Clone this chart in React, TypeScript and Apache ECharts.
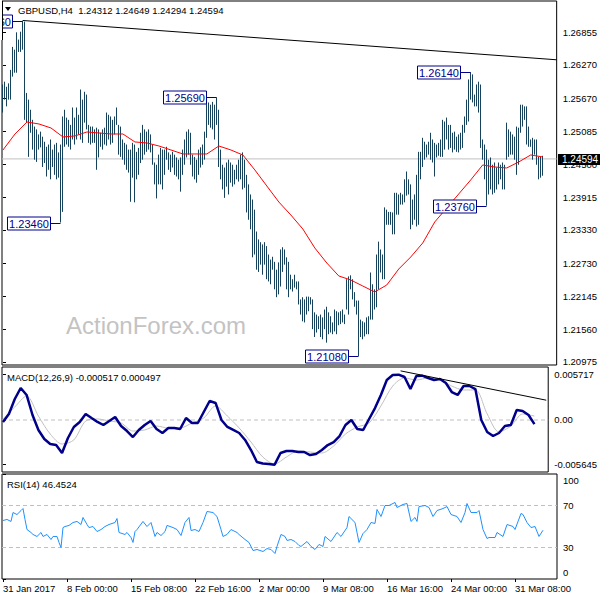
import { useEffect, useRef } from "react";
import * as echarts from "echarts";

// ---------- DATA ----------
const highs = [
  1.2592, 1.2597, 1.2588, 1.2594, 1.2618, 1.2659, 1.2654, 1.2685, 1.2672, 1.2686,
  1.2706, 1.2704, 1.2577, 1.2565, 1.2547, 1.2529, 1.2517, 1.2512, 1.2503, 1.2508,
  1.2499, 1.249, 1.2481, 1.2485, 1.2494, 1.2476, 1.2485, 1.2488, 1.2471, 1.2485,
  1.2535, 1.2547, 1.2533, 1.2529, 1.252, 1.2551, 1.2533, 1.2551, 1.2538, 1.2583,
  1.2565, 1.2579, 1.2574, 1.252, 1.2517, 1.2517, 1.2512, 1.2515, 1.2512, 1.2506,
  1.2512, 1.2515, 1.2542, 1.2538, 1.2535, 1.2529, 1.2535, 1.2551, 1.252, 1.2517,
  1.2494, 1.2488, 1.2485, 1.2476, 1.2476, 1.2488, 1.2485, 1.2472, 1.2479, 1.2506,
  1.252, 1.2512, 1.2508, 1.2512, 1.2503, 1.2485, 1.2453, 1.2449, 1.2467, 1.2479,
  1.2476, 1.2476, 1.2481, 1.2471, 1.2467, 1.2472, 1.2467, 1.2462, 1.2458, 1.2462,
  1.2476, 1.2494, 1.2508, 1.2512, 1.2506, 1.2467, 1.2463, 1.2458, 1.2476, 1.248,
  1.2485, 1.2508, 1.256, 1.256, 1.2556, 1.2561, 1.2556, 1.2569, 1.2547, 1.2476,
  1.2449, 1.2444, 1.2453, 1.2458, 1.2453, 1.2449, 1.244, 1.2449, 1.2458, 1.2467,
  1.2471, 1.2458, 1.2431, 1.2414, 1.2396, 1.2387, 1.2369, 1.233, 1.2316, 1.2311,
  1.2307, 1.2311, 1.2304, 1.2289, 1.228, 1.2285, 1.2276, 1.2262, 1.2275, 1.2298,
  1.2302, 1.2298, 1.2284, 1.2276, 1.2253, 1.2245, 1.2253, 1.2241, 1.2241, 1.2209,
  1.2213, 1.2209, 1.2214, 1.2214, 1.2213, 1.2209, 1.2186, 1.2182, 1.2179, 1.2182,
  1.2177, 1.2191, 1.2196, 1.2186, 1.2179, 1.2168, 1.2191, 1.2188, 1.2186, 1.2188,
  1.2191, 1.2182, 1.2245, 1.225, 1.2252, 1.2245, 1.2222, 1.2207, 1.2207, 1.2173,
  1.217, 1.2168, 1.2177, 1.2179, 1.2257, 1.2236, 1.2227, 1.2289, 1.2312, 1.2298,
  1.2289, 1.2373, 1.2369, 1.2365, 1.2365, 1.2364, 1.2399, 1.2399, 1.2396, 1.2399,
  1.2396, 1.2423, 1.2437, 1.2423, 1.2414, 1.2387, 1.2396, 1.2431, 1.2472, 1.2472,
  1.2497, 1.249, 1.2485, 1.249, 1.2506, 1.2494, 1.2488, 1.2485, 1.2488, 1.2494,
  1.2529, 1.2526, 1.2533, 1.252, 1.252, 1.2506, 1.2508, 1.2499, 1.2503, 1.2506,
  1.252, 1.2535, 1.2565, 1.2601, 1.2614, 1.261, 1.2574, 1.2592, 1.2597, 1.2592,
  1.2494, 1.2485, 1.2476, 1.2458, 1.2462, 1.2449, 1.2453, 1.2444, 1.2453, 1.2449,
  1.2453, 1.2449, 1.2524, 1.2512, 1.2508, 1.2503, 1.2499, 1.2517, 1.2515, 1.2556,
  1.2556, 1.2553, 1.2553, 1.2517, 1.2494, 1.2497, 1.2494, 1.2494, 1.2463, 1.2463,
  1.24649,
];
const lows = [
  1.2542, 1.2565, 1.2553, 1.2565, 1.2565, 1.2606, 1.2613, 1.2613, 1.265, 1.265,
  1.2654, 1.2529, 1.2524, 1.2463, 1.2506, 1.2476, 1.2458, 1.2454, 1.2476, 1.248,
  1.2445, 1.2452, 1.2428, 1.244, 1.2423, 1.2445, 1.2431, 1.2423, 1.2426, 1.2346,
  1.2365, 1.2481, 1.2485, 1.2481, 1.2476, 1.2494, 1.2485, 1.2494, 1.2503, 1.2494,
  1.2488, 1.2524, 1.2512, 1.2488, 1.2485, 1.2488, 1.2488, 1.244, 1.2462, 1.2481,
  1.2476, 1.2485, 1.2483, 1.2494, 1.2485, 1.2488, 1.2503, 1.252, 1.2467, 1.2463,
  1.2458, 1.2449, 1.244, 1.2435, 1.2383, 1.2426, 1.2382, 1.2423, 1.2431, 1.2452,
  1.2458, 1.2467, 1.2472, 1.2476, 1.2471, 1.2449, 1.2414, 1.2389, 1.2414, 1.2414,
  1.2405, 1.2431, 1.2458, 1.244, 1.2436, 1.2444, 1.2431, 1.2428, 1.2423, 1.2401,
  1.2431, 1.2449, 1.2462, 1.2467, 1.2449, 1.2428, 1.2423, 1.2417, 1.2431, 1.2444,
  1.2449, 1.2458, 1.2497, 1.252, 1.2515, 1.2512, 1.2494, 1.252, 1.2445, 1.2423,
  1.2405, 1.239, 1.241, 1.2396, 1.2417, 1.241, 1.2414, 1.2423, 1.2419, 1.2423,
  1.2405, 1.2408, 1.2364, 1.2351, 1.2334, 1.2284, 1.2289, 1.2262, 1.2258, 1.2271,
  1.2253, 1.2271, 1.2245, 1.2241, 1.2236, 1.2262, 1.2227, 1.2213, 1.2218, 1.2232,
  1.2258, 1.2271, 1.2227, 1.2213, 1.2227, 1.2223, 1.223, 1.2227, 1.22, 1.2182,
  1.217, 1.2168, 1.2182, 1.2188, 1.22, 1.2156, 1.2142, 1.215, 1.2156, 1.2142,
  1.2138, 1.2156, 1.2132, 1.2147, 1.215, 1.2147, 1.2152, 1.2147, 1.2163, 1.2165,
  1.2168, 1.2165, 1.2191, 1.2182, 1.2227, 1.2209, 1.2196, 1.2182, 1.2108, 1.2142,
  1.2138, 1.2143, 1.2147, 1.2147, 1.2173, 1.2173, 1.2191, 1.2195, 1.2227, 1.2257,
  1.2245, 1.2245, 1.2342, 1.2342, 1.2342, 1.2325, 1.2325, 1.236, 1.236, 1.2378,
  1.2378, 1.2382, 1.2394, 1.2396, 1.2334, 1.2342, 1.2351, 1.2339, 1.2342, 1.2423,
  1.2445, 1.2458, 1.2462, 1.2467, 1.2458, 1.2453, 1.2428, 1.2462, 1.2465, 1.2463,
  1.2463, 1.2476, 1.2494, 1.2476, 1.2479, 1.2471, 1.2476, 1.2472, 1.2471, 1.2476,
  1.2479, 1.2506, 1.252, 1.2526, 1.2565, 1.256, 1.2553, 1.2553, 1.2542, 1.2479,
  1.2458, 1.2423, 1.2376, 1.2396, 1.2405, 1.2396, 1.2399, 1.2405, 1.2414, 1.2423,
  1.2405, 1.2405, 1.2458, 1.2463, 1.2467, 1.2467, 1.2458, 1.2431, 1.2449, 1.2506,
  1.2517, 1.2529, 1.2485, 1.2481, 1.2481, 1.2458, 1.2467, 1.2449, 1.2423, 1.2426,
  1.24294,
];

// moving average, read every 6 bars
const maStep = 6;
const maValues = [
  1.24753, 1.25038, 1.25252, 1.25216, 1.25145, 1.24985, 1.25003, 1.25074, 1.25056, 1.25038,
  1.25038, 1.24896, 1.24878, 1.24824, 1.24753, 1.24682, 1.24682, 1.24682, 1.24824, 1.24753,
  1.24664, 1.24397, 1.24111, 1.23826, 1.23595, 1.23345, 1.23007, 1.22739, 1.22508, 1.22436,
  1.22329, 1.22223, 1.22347, 1.22632, 1.22846, 1.23096, 1.2347, 1.2372, 1.23969, 1.24219,
  1.24486, 1.2445, 1.24432, 1.24539, 1.24664, 1.24629,
];

// MACD main line, read every 3 bars
const macdStep = 3;
const macdMain = [
  -0.00025, 0.00076, 0.00265, 0.00404, 0.00316, 0.00063, -0.00126, -0.0024, -0.00303, -0.00316,
  -0.00416, -0.00227, -0.00088, -0.00025, 0.00076, 0.00025, -0.00025, -0.00063, -0.00013, 0.00038,
  -0.00076, -0.00139, -0.00215, -0.00126, -0.00063, -0.00013, -0.00114, -0.00164, -0.00101, -0.00101,
  -0.00114, 0.00025, -0.00038, -0.00038, 0.00101, 0.0024, 0.00215, 0.0, -0.00088, -0.00126,
  -0.00164, -0.00252, -0.00379, -0.0053, -0.0055, -0.00555, -0.00564, -0.00416, -0.00391, -0.00391,
  -0.00404, -0.00404, -0.00442, -0.00429, -0.00379, -0.00316, -0.00278, -0.00202, -0.00063, 0.0,
  -0.00114, -0.00126, 0.00013, 0.00151, 0.00316, 0.00505, 0.00568, 0.00572, 0.00543, 0.00391,
  0.00555, 0.0056, 0.0053, 0.00505, 0.00517, 0.00467, 0.00353, 0.00316, 0.00429, 0.00429,
  0.00391, 0.0, -0.00151, -0.00202, -0.00164, -0.00076, -0.00063, 0.00126, 0.00114, 0.00063,
  -0.000517,
];

// MACD signal line, read every 6 bars
const signalStep = 6;
const macdSignal = [
  0.00013, 0.00164, 0.00303, 0.0005, -0.00177, -0.00303, -0.00252, -0.00013, 0.00013, -0.00013,
  -0.00038, -0.00139, -0.00126, -0.00076, -0.00101, -0.00101, -0.00038, 0.00025, 0.00177, 0.0005,
  -0.00101, -0.00278, -0.00467, -0.00555, -0.00467, -0.00391, -0.00404, -0.00416, -0.00328, -0.00177,
  -0.00088, -0.00038, 0.00177, 0.00429, 0.0053, 0.00505, 0.0053, 0.00505, 0.00429, 0.00379,
  0.00379, 0.00076, -0.00151, -0.00076, 0.00076, 0.000497,
];

// RSI(14): [bar index, value]
const rsiPoints: [number, number][] = [
  [0, 55.7], [2, 56.7], [4, 54.8], [5, 63.3], [7, 61.4], [9, 65.2], [10, 67.1], [11, 56.7], [12, 47.1],
  [14, 44.3], [15, 42.4], [17, 40.5], [19, 44.3], [20, 40.5], [22, 42.4], [24, 37.6], [25, 40.5],
  [27, 40.5], [28, 34.8], [29, 30.0], [30, 49.0], [31, 50.0], [33, 51.0], [35, 53.8], [37, 54.8],
  [39, 51.9], [40, 58.6], [42, 51.9], [43, 49.0], [45, 50.0], [47, 45.2], [49, 47.1], [51, 50.0],
  [53, 51.9], [56, 53.8], [57, 57.6], [58, 44.3], [61, 42.4], [62, 44.3], [64, 39.5], [65, 34.8],
  [66, 45.2], [67, 47.1], [70, 54.8], [72, 50.0], [74, 53.8], [76, 40.5], [77, 44.3], [79, 41.4],
  [81, 45.2], [82, 51.0], [85, 49.0], [87, 47.1], [89, 41.4], [91, 53.8], [93, 58.6], [94, 46.2],
  [96, 47.1], [98, 45.2], [100, 53.8], [102, 64.3], [105, 63.3], [107, 59.5], [109, 47.1], [110, 40.5],
  [112, 42.4], [114, 47.1], [117, 44.3], [118, 42.4], [121, 37.6], [123, 34.8], [125, 27.1], [127, 28.1],
  [130, 26.2], [132, 29.0], [134, 28.1], [136, 24.3], [137, 31.0], [139, 42.4], [141, 40.5], [142, 36.7],
  [144, 37.6], [146, 35.7], [148, 31.9], [149, 31.0], [152, 35.7], [154, 31.0], [156, 28.1], [158, 32.9],
  [160, 31.0], [161, 40.5], [164, 35.7], [167, 44.3], [169, 40.5], [172, 49.0], [173, 59.5], [176, 53.8],
  [177, 44.3], [178, 34.8], [180, 43.3], [182, 47.1], [184, 53.8], [186, 52.9], [187, 66.2], [189, 59.5],
  [191, 70.0], [193, 70.0], [196, 72.9], [197, 68.1], [200, 71.0], [202, 71.9], [204, 54.8], [206, 58.6],
  [207, 54.8], [208, 69.0], [211, 70.0], [213, 68.1], [215, 59.5], [217, 65.2], [220, 67.1], [222, 69.0],
  [224, 61.4], [227, 59.5], [229, 53.8], [231, 63.3], [232, 71.9], [234, 63.3], [237, 63.3], [238, 65.2],
  [240, 47.1], [242, 38.6], [243, 39.5], [246, 39.5], [247, 44.3], [250, 40.5], [252, 51.9], [255, 50.0],
  [256, 47.1], [259, 62.4], [260, 61.4], [262, 53.8], [264, 49.0], [266, 50.0], [268, 40.5], [270, 46.45],
];

const timeTickIdx = [0, 32, 64, 96, 128, 160, 192, 224, 256];
const timeTickLabels = [
  "31 Jan 2017", "8 Feb 00:00", "15 Feb 08:00", "22 Feb 16:00", "2 Mar 00:00",
  "9 Mar 08:00", "16 Mar 16:00", "24 Mar 00:00", "31 Mar 08:00",
];
const priceTicks = [1.20975, 1.2156, 1.22145, 1.2273, 1.2333, 1.23915, 1.245, 1.25085, 1.2567, 1.2627, 1.26855];
const macdTicks = [-0.005645, 0, 0.005717];
const rsiTicks = [0, 30, 70, 100];
const rsiLevels = [30, 70];
const lastPrice = 1.24594;
const ohlcTitle = "GBPUSD,H4  1.24312 1.24649 1.24294 1.24594";
const macdTitle = "MACD(12,26,9) -0.000517 0.000497";
const rsiTitle = "RSI(14) 46.4524";
const watermark = "ActionForex.com";
const swingLabels = [
  { idx: 10, price: 1.2706 },
  { idx: 29, price: 1.2346 },
  { idx: 107, price: 1.2569 },
  { idx: 178, price: 1.2108 },
  { idx: 234, price: 1.2614 },
  { idx: 242, price: 1.2376 },
];
const priceTrend: [number, number][] = [[10, 1.2706], [277, 1.2636]];
const macdTrend: [number, number][] = [[202, 0.0062], [276, 0.0025]];

// ---------- STYLE ----------
const FONT = "'Liberation Sans', Arial, sans-serif";
const BAR_COLOR = "#17425c";
const NAVY = "#00008b";
const X_MIN = -0.5;
const X_MAX = 277;

const gridBase = { left: 2, width: 555, show: true, borderColor: "#000", borderWidth: 1, backgroundColor: "#fff" };

function hLine(xi: number, yi: number, value: number, color: string, type: any, z: number) {
  return {
    type: "line",
    xAxisIndex: xi,
    yAxisIndex: yi,
    data: [[X_MIN, value], [X_MAX, value]],
    showSymbol: false,
    symbol: "none",
    silent: true,
    lineStyle: { color, type, width: 1 },
    z,
  };
}

function buildOption(): any {
  const xAxes = [0, 1, 2].map((g) => ({
    type: "value",
    gridIndex: g,
    min: X_MIN,
    max: X_MAX,
    show: g === 2,
    axisLine: { show: false },
    splitLine: { show: false },
    axisTick: { show: g === 2, customValues: timeTickIdx, length: 3, lineStyle: { color: "#000" } },
    axisLabel: {
      show: g === 2,
      customValues: timeTickIdx,
      formatter: (v: number) => {
        const k = timeTickIdx.indexOf(Math.round(v));
        return k >= 0 ? timeTickLabels[k] : "";
      },
      align: "left",
      fontSize: 9.5,
      color: "#000",
      margin: 4,
      fontFamily: FONT,
    },
  }));

  const yLabelBase = { fontSize: 9.5, color: "#000", margin: 6, fontFamily: FONT };
  const yAxes = [
    {
      type: "value", gridIndex: 0, position: "right", min: 1.209215, max: 1.274077,
      axisLine: { show: false }, splitLine: { show: false },
      axisTick: { show: true, customValues: priceTicks, length: 3, lineStyle: { color: "#000" } },
      axisLabel: { ...yLabelBase, customValues: priceTicks, formatter: (v: number) => v.toFixed(5) },
    },
    {
      type: "value", gridIndex: 1, position: "right", min: -0.006563, max: 0.006689,
      axisLine: { show: false }, splitLine: { show: false },
      axisTick: { show: true, customValues: macdTicks, length: 3, lineStyle: { color: "#000" } },
      axisLabel: { ...yLabelBase, customValues: macdTicks, formatter: (v: number) => (v === 0 ? "0.00" : v.toFixed(6)) },
    },
    {
      type: "value", gridIndex: 2, position: "right", min: 0, max: 100,
      axisLine: { show: false }, splitLine: { show: false },
      axisTick: { show: true, customValues: rsiTicks, length: 3, lineStyle: { color: "#000" } },
      axisLabel: {
        ...yLabelBase,
        customValues: rsiTicks,
        formatter: (v: number) => (v === 100 ? "{t|100}" : v === 0 ? "{b|0}" : String(v)),
        rich: {
          t: { padding: [13, 0, 0, 0], fontSize: 9.5, color: "#000", fontFamily: FONT },
          b: { padding: [0, 0, 14, 0], fontSize: 9.5, color: "#000", fontFamily: FONT },
        },
      },
    },
  ];

  const dash = [4, 3];

  return {
    animation: false,
    backgroundColor: "#fff",
    textStyle: { fontFamily: FONT },
    grid: [
      { ...gridBase, top: 1, height: 364 },
      { ...gridBase, top: 367, height: 105 },
      { ...gridBase, top: 474, height: 105 },
    ],
    xAxis: xAxes,
    yAxis: yAxes,
    series: [
      hLine(0, 0, lastPrice, "#c0c0c0", "solid", 1),
      {
        type: "custom",
        xAxisIndex: 0,
        yAxisIndex: 0,
        clip: true,
        data: highs.map((h, i) => [i, lows[i], h]),
        encode: { x: 0, y: [1, 2] },
        renderItem: (_p: any, api: any) => {
          const lo = api.coord([api.value(0), api.value(1)]);
          const hi = api.coord([api.value(0), api.value(2)]);
          const x = Math.floor(lo[0]) + 0.5;
          return {
            type: "line",
            shape: { x1: x, y1: lo[1], x2: x, y2: hi[1] },
            style: { stroke: BAR_COLOR, lineWidth: 1 },
          };
        },
        z: 2,
      },
      {
        type: "line",
        xAxisIndex: 0,
        yAxisIndex: 0,
        data: maValues.map((v, k) => [k * maStep, v]),
        showSymbol: false,
        symbol: "none",
        lineStyle: { color: "#ff0000", width: 1 },
        z: 3,
      },
      {
        type: "line",
        xAxisIndex: 0,
        yAxisIndex: 0,
        data: priceTrend,
        showSymbol: false,
        symbol: "none",
        lineStyle: { color: "#000", width: 1 },
        z: 4,
      },
      hLine(1, 1, 0, "#c0c0c0", dash, 1),
      {
        type: "line",
        xAxisIndex: 1,
        yAxisIndex: 1,
        data: macdSignal.map((v, k) => [k * signalStep, v]),
        showSymbol: false,
        symbol: "none",
        smooth: 0.3,
        lineStyle: { color: "#c0c0c0", width: 1 },
        z: 2,
      },
      {
        type: "line",
        xAxisIndex: 1,
        yAxisIndex: 1,
        data: macdMain.map((v, k) => [k * macdStep, v]),
        showSymbol: false,
        symbol: "none",
        lineStyle: { color: NAVY, width: 2.5 },
        z: 3,
      },
      {
        type: "line",
        xAxisIndex: 1,
        yAxisIndex: 1,
        data: macdTrend,
        showSymbol: false,
        symbol: "none",
        lineStyle: { color: "#000", width: 1 },
        z: 4,
      },
      ...rsiLevels.map((l) => hLine(2, 2, l, "#c0c0c0", dash, 1)),
      {
        type: "line",
        xAxisIndex: 2,
        yAxisIndex: 2,
        data: rsiPoints,
        showSymbol: false,
        symbol: "none",
        lineStyle: { color: "#1e90ff", width: 1 },
        z: 3,
      },
    ],
  };
}

function txt(x: number, y: number, text: string, fill: string, font: string, align = "left", z = 100) {
  return {
    type: "text",
    z,
    style: {
      x, y, text, fill, font,
      align, textAlign: align,
      verticalAlign: "middle", textVerticalAlign: "middle",
    },
  };
}

export default function App() {
  const ref = useRef<HTMLDivElement>(null);
  useEffect(() => {
    const chart = echarts.init(ref.current!, undefined, { renderer: "svg" });
    chart.setOption(buildOption());

    const g: any[] = [];
    // header texts
    g.push({ type: "polygon", z: 100, shape: { points: [[5, 7], [11, 7], [8, 11]] }, style: { fill: "#000" } });
    g.push(txt(18, 10, ohlcTitle, "#000", `9.5px ${FONT}`));
    g.push(txt(66, 325, watermark, "#c3c3c3", `24px ${FONT}`, "left", 1));
    g.push(txt(7, 377, macdTitle, "#000", `9.5px ${FONT}`));
    g.push(txt(7, 484, rsiTitle, "#000", `9.5px ${FONT}`));

    // swing high/low labels
    swingLabels.forEach((s) => {
      const p = chart.convertToPixel({ gridIndex: 0 } as any, [s.idx, s.price]) as number[];
      const bx = Math.floor(p[0]) + 0.5;
      const y = Math.round(p[1]) + 0.5;
      const boxR = bx - 10;
      g.push({ type: "line", z: 100, shape: { x1: boxR, y1: y, x2: bx, y2: y }, style: { stroke: NAVY, lineWidth: 1 } });
      g.push({
        type: "rect", z: 100,
        shape: { x: boxR - 43, y: y - 6.5, width: 43, height: 13 },
        style: { fill: "#fff", stroke: NAVY, lineWidth: 1 },
      });
      g.push(txt(boxR - 21.5, y + 0.5, s.price.toFixed(5), NAVY, `11px ${FONT}`, "center", 101));
    });

    // current price tag
    const lp = chart.convertToPixel({ gridIndex: 0 } as any, [0, lastPrice]) as number[];
    const ly = Math.round(lp[1]);
    g.push({ type: "rect", z: 102, shape: { x: 558, y: ly - 5, width: 42, height: 11 }, style: { fill: "#000" } });
    g.push(txt(562, ly + 0.5, lastPrice.toFixed(5), "#fff", `10px ${FONT}`, "left", 103));

    // cover overflow left of the frame
    g.push({ type: "rect", z: 104, shape: { x: 0, y: 0, width: 2, height: 40 }, style: { fill: "#fff" } });
    g.push({ type: "line", z: 105, shape: { x1: 2.5, y1: 1, x2: 2.5, y2: 40 }, style: { stroke: "#000", lineWidth: 1 } });

    chart.setOption({ graphic: g });
    return () => chart.dispose();
  }, []);
  return <div ref={ref} style={{ position: "absolute", left: 0, top: 0, width: 600, height: 600 }} />;
}
